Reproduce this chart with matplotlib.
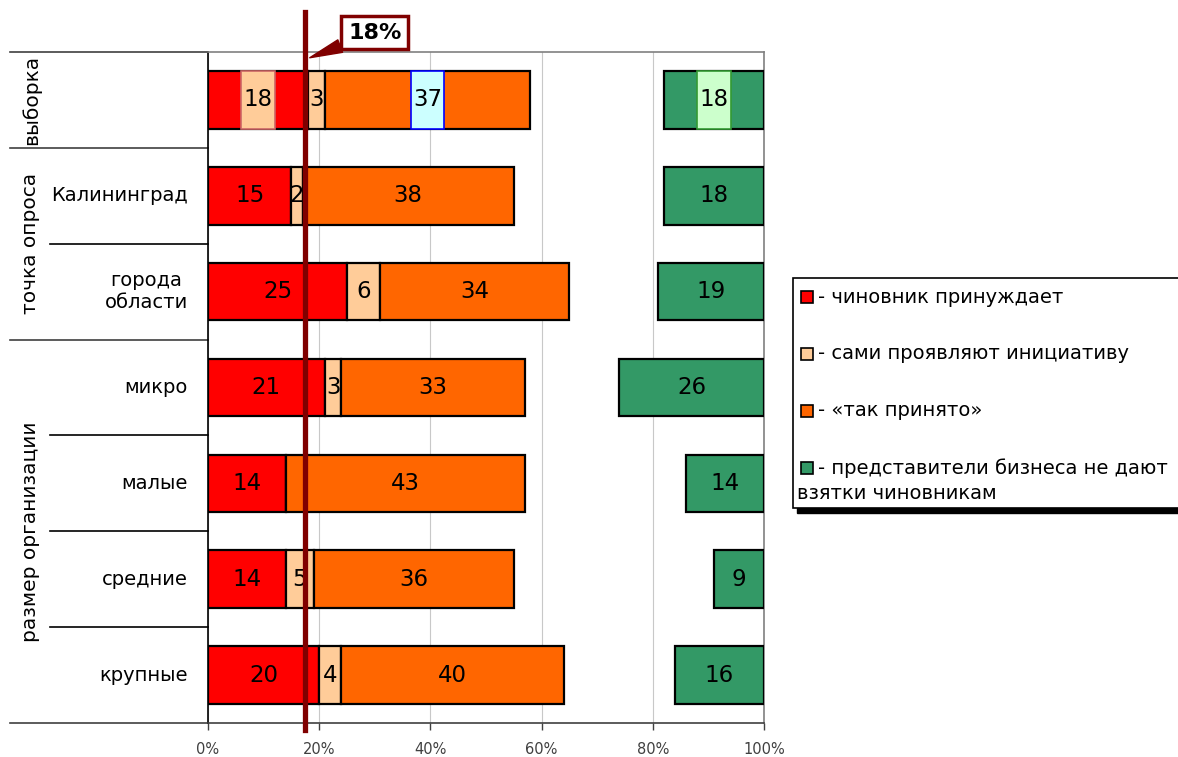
import matplotlib.pyplot as plt
from matplotlib.patches import Rectangle

rows = ['выборка', 'Калининград', 'города\nобласти', 'микро', 'малые', 'средние', 'крупные']
forced = [18, 15, 25, 21, 14, 14, 20]
initiative = [3, 2, 6, 3, 0, 5, 4]
accepted = [37, 38, 34, 33, 43, 36, 40]
no_bribes = [18, 18, 19, 26, 14, 9, 16]
groups = ['выборка', 'точка опроса', 'размер организации']
group_rows = [(0, 0), (1, 2), (3, 6)]
avg_forced = 18
ticks = [0, 20, 40, 60, 80, 100]
legend_labels = ['- чиновник принуждает', '- сами проявляют инициативу', '- «так принято»',
                 '- представители бизнеса не дают', 'взятки чиновникам']

c_red = '#ff0000'
c_peach = '#ffcc99'
c_orange = '#ff6600'
c_green = '#339966'
dark = '#800000'

plt.rcParams['font.family'] = ['DejaVu Sans']
W, H = 1178, 757
fig = plt.figure(figsize=(W / 100, H / 100), dpi=100)
ax = fig.add_axes([208 / W, 1 - 723 / H, 556 / W, 671 / H])

y = list(range(len(rows)))
bh = 0.6
kw = dict(height=bh, edgecolor='black', linewidth=1.6, zorder=3)
left2 = [a + b for a, b in zip(forced, initiative)]
left_green = [100 - g for g in no_bribes]
ax.barh(y, forced, color=c_red, **kw)
ax.barh(y, initiative, left=forced, color=c_peach, **kw)
ax.barh(y, accepted, left=left2, color=c_orange, **kw)
ax.barh(y, no_bribes, left=left_green, color=c_green, **kw)

# подписи значений
fs = 16.5
for i in y:
    segs = [(0, forced[i]), (forced[i], initiative[i]), (left2[i], accepted[i]), (left_green[i], no_bribes[i])]
    for j, (l, v) in enumerate(segs):
        if v == 0:
            continue
        cx = l + v / 2
        if i == 0 and j != 1:
            fc, ec = [('#ffcc99', '#cc6666'), None, ('#ccffff', '#0000ff'), ('#ccffcc', '#339933')][j]
            ax.barh(0, 6, left=cx - 3, height=bh, color=fc, edgecolor=ec, linewidth=1.2, zorder=4)
        ax.text(cx, i, str(v), ha='center', va='center', fontsize=fs, zorder=5)

ax.set_xlim(0, 100)
ax.set_ylim(len(rows) - 0.5, -0.5)
ax.set_xticks(ticks)
ax.set_xticklabels([f'{t}%' for t in ticks], fontsize=10.5)
ax.tick_params(axis='x', length=5, width=1, colors='#404040', pad=9)
ax.set_yticks([])
ax.grid(axis='x', color='#c8c8c8', linewidth=0.8, zorder=0)
ax.spines['left'].set_color('black')
ax.spines['bottom'].set_color('#404040')
ax.spines['top'].set_color('#808080')
ax.spines['right'].set_color('#808080')
for s in ax.spines.values():
    s.set_linewidth(1.2)

# категории слева
tr = ax.get_yaxis_transform()
for i, r in enumerate(rows):
    if r in groups:
        continue
    ax.text(-20 / 556, i, r, transform=tr, ha='right', va='center', fontsize=14,
            multialignment='center')
for k in range(len(rows) + 1):
    yy = k - 0.5
    full = any(yy == a - 0.5 for a, b in group_rows) or k == len(rows)
    x0 = -198 / 556 if full else -158 / 556
    ax.plot([x0, 0], [yy, yy], transform=tr, color='black' if not full else '#404040',
            linewidth=1.2, clip_on=False)
for g, (a, b) in zip(groups, group_rows):
    ax.text(-177 / 556, (a + b) / 2, g, transform=tr, rotation=90, ha='center', va='center',
            fontsize=14.5)

# средняя линия 18%
ax.plot([avg_forced - 0.6] * 2, [-0.5 - 40 / 96, len(rows) - 0.5 + 7 / 96], color=dark,
        linewidth=3.8, clip_on=False, zorder=6)
ax.annotate(f'{avg_forced}%', xy=(avg_forced + 0.3, -0.44), xytext=(30, -0.7),
            fontsize=16, fontweight='bold', ha='center', va='center', annotation_clip=False,
            bbox=dict(boxstyle='square,pad=0.3', fc='white', ec=dark, lw=2.5),
            arrowprops=dict(arrowstyle='wedge,tail_width=0.6', fc=dark, ec=dark,
                            shrinkA=0, shrinkB=0), zorder=7)

# легенда
def fx(px):
    return px / W

def fy(py):
    return 1 - py / H

fig.patches.append(Rectangle((fx(797), fy(513)), fx(400), 5 / H, transform=fig.transFigure,
                             color='black', zorder=1))
fig.patches.append(Rectangle((fx(793), fy(508)), fx(400), 230 / H, transform=fig.transFigure,
                             fc='white', ec='black', lw=1.2, zorder=2))
leg_colors = [c_red, c_peach, c_orange, c_green]
leg_y = [297, 354, 411, 468]
for col, ly, lab in zip(leg_colors, leg_y, legend_labels):
    fig.patches.append(Rectangle((fx(801), fy(ly + 6)), 12 / W, 12 / H, transform=fig.transFigure,
                                 fc=col, ec='black', lw=1.2, zorder=3))
    fig.text(fx(818), fy(ly), lab, ha='left', va='center', fontsize=14, zorder=4)
fig.text(fx(797), fy(ly + 26), legend_labels[4], ha='left', va='center', fontsize=14, zorder=4)

fig.savefig('out.png', dpi=100)
